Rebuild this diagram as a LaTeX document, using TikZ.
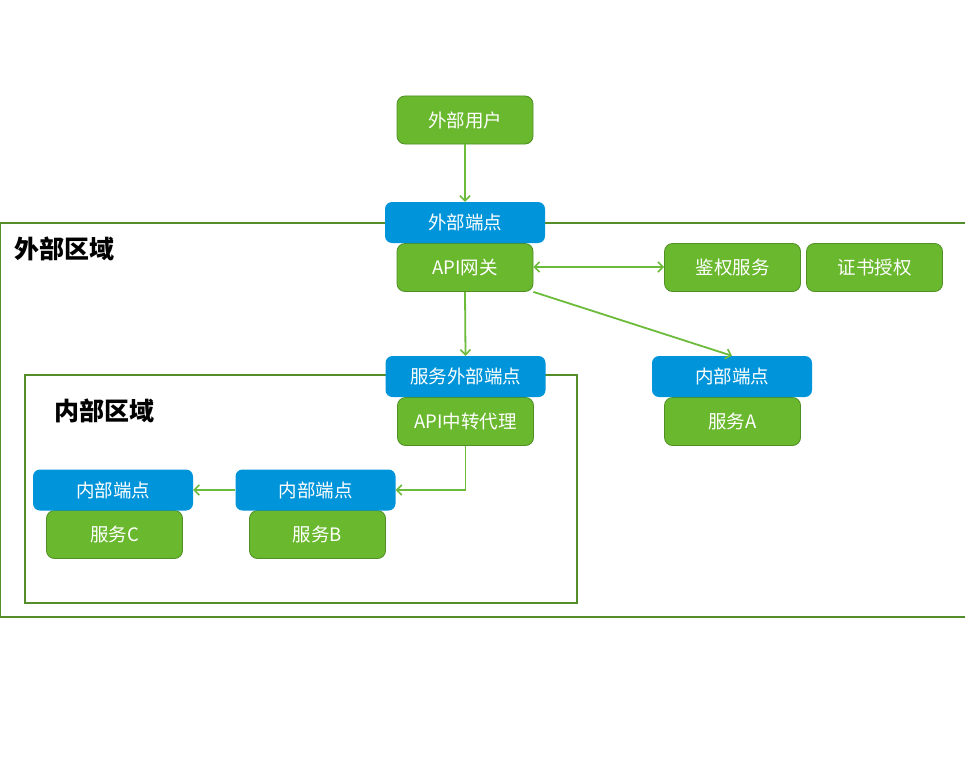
\documentclass[tikz,border=0pt]{standalone}
\usepackage{fontspec}
\setmainfont{Noto Sans CJK SC}
\usetikzlibrary{arrows.meta}
\definecolor{gfill}{HTML}{6AB82E}
\definecolor{gline}{HTML}{4F8F24}
\definecolor{zone}{HTML}{538E2B}
\definecolor{bfill}{HTML}{0095DA}
\definecolor{arr}{HTML}{6CBB3A}
\tikzset{
  gbox/.style={draw=gline, line width=0.8pt, fill=gfill, rounded corners=8pt, minimum width=136pt, minimum height=48pt, text=white, font=\fontsize{18.5}{22}\selectfont, inner sep=0pt},
  bbox/.style={fill=bfill, rounded corners=7pt, minimum width=160pt, minimum height=41pt, text=white, font=\fontsize{18.5}{22}\selectfont, inner sep=0pt},
  zonebox/.style={draw=zone, line width=2.5pt},
  zlabel/.style={font=\fontsize{25}{28}\selectfont\bfseries, anchor=west, inner sep=0pt},
  tip/.tip={Straight Barb[length=5pt,width=10pt,line width=1.6pt]},
  conn/.style={draw=arr, line width=1.8pt, -tip},
}
\begin{document}
\begin{tikzpicture}[x=1pt,y=1pt]
\useasboundingbox (0,0) rectangle (965,-773);
\fill[white] (0,0) rectangle (965,-773);
% zones
\draw[zonebox] (0,-223) rectangle (980,-617);
\draw[zonebox] (25,-375) rectangle (577,-603);
\node[zlabel] (zo) at (14,-249) {外部区域};
\node[zlabel] (zi) at (54,-411) {内部区域};
% nodes
\node[gbox] (user) at (465,-120) {外部用户};
\node[gbox] (gw) at (465,-267.5) {API网关};
\node[bbox] (extep) at (465,-222.5) {外部端点};
\node[gbox] (auth) at (732.5,-267.5) {鉴权服务};
\node[gbox] (cert) at (874.5,-267.5) {证书授权};
\node[gbox] (proxy) at (465.5,-421.5) {API中转代理};
\node[bbox] (svcext) at (465.5,-376.5) {服务外部端点};
\node[gbox] (sa) at (732.5,-421.5) {服务A};
\node[bbox] (epa) at (732,-376.5) {内部端点};
\node[gbox] (sc) at (114.5,-534.5) {服务C};
\node[bbox] (epc) at (113,-490) {内部端点};
\node[gbox] (sb) at (317.5,-534.5) {服务B};
\node[bbox] (epb) at (315.5,-490) {内部端点};
% connectors
\draw[conn] (user.south) -- (extep.north);
\draw[conn] (gw.south) -- (svcext.north);
\draw[conn, tip-tip] ([yshift=0.5pt]gw.east) -- ([yshift=0.5pt]auth.west);
\draw[conn] (gw.south east) -- (epa.north);
\draw[conn] (proxy.south) |- (epb.east);
\draw[conn] (epb.west) -- (epc.east);
\end{tikzpicture}
\end{document}
